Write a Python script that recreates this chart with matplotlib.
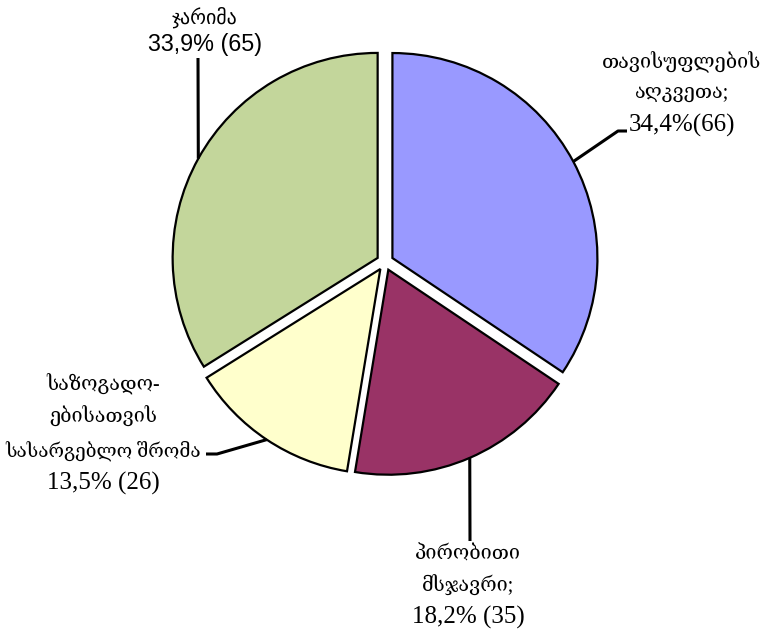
import numpy as np
import matplotlib
matplotlib.use("Agg")
import matplotlib.pyplot as plt

# sentence types (share of convicts), clockwise from 12 o'clock
labels = ["თავისუფლების\nაღკვეთა;\n34,4%(66)",
          "პირობითი\nმსჯავრი;\n18,2% (35)",
          "საზოგადო-\nებისათვის\nსასარგებლო შრომა\n13,5% (26)",
          "ჯარიმა\n33,9% (65)"]
shares = [34.4, 18.2, 13.5, 33.9]
colors = ["#9999FF", "#993366", "#FFFFCC", "#C3D69B"]

W, H = 778, 637
R = 205.0            # pie radius in pixels
CX, CY = 385, 262    # pie centre in pixels (from top-left)

def px(x, y):
    # pixel position -> data units (radius = 1)
    return (x - CX) / R, (CY - y) / R

fig = plt.figure(figsize=(W / 100, H / 100), dpi=100)
ax = fig.add_axes([0, 0, 1, 1])

expl = 0.041
wedges, _ = ax.pie(shares, colors=colors, startangle=90, counterclock=False,
                   explode=[expl] * 4, radius=1,
                   wedgeprops=dict(edgecolor="black", linewidth=1.6))
ax.set_xlim(-CX / R, (W - CX) / R)
ax.set_ylim((CY - H) / R, CY / R)
ax.axis("off")

serif = ["Liberation Serif", "DejaVu Serif"]
sans = ["Liberation Sans", "DejaVu Sans"]

# label layout: centre x, first line y, line step (pixels), font
label_x = [682, 468, 103, 205]
label_y0 = [62, 555, 385, 17]
label_step = [31.5, 31, 32.7, 28]
label_font = [serif, serif, serif, sans]
leaders = [[px(618, 131), px(627, 131)],
           [px(470, 541)],
           [px(217, 454), px(206, 454)],
           [px(198, 58)]]

def is_georgian(s):
    return any(0x10A0 <= ord(c) <= 0x10FF for c in s)

for w, lab, x0, y0, step, fam, pts in zip(wedges, labels, label_x, label_y0,
                                         label_step, label_font, leaders):
    mid = np.deg2rad((w.theta1 + w.theta2) / 2)
    cx, cy = w.center
    start = (cx + np.cos(mid), cy + np.sin(mid))
    xs = [start[0]] + [p[0] for p in pts]
    ys = [start[1]] + [p[1] for p in pts]
    ax.plot(xs, ys, color="black", lw=2.2, solid_capstyle="butt", zorder=3)
    for i, line in enumerate(lab.split("\n")):
        if is_georgian(line):
            fs = 14.3 if len(line) < 14 else 13.6
        else:
            fs = 18.0 if fam is serif else 16.8
        tx, ty = px(x0, y0 + i * step)
        ax.text(tx, ty, line, ha="center", va="center", family=fam, fontsize=fs)

fig.savefig("out.png", dpi=100, facecolor="white")
